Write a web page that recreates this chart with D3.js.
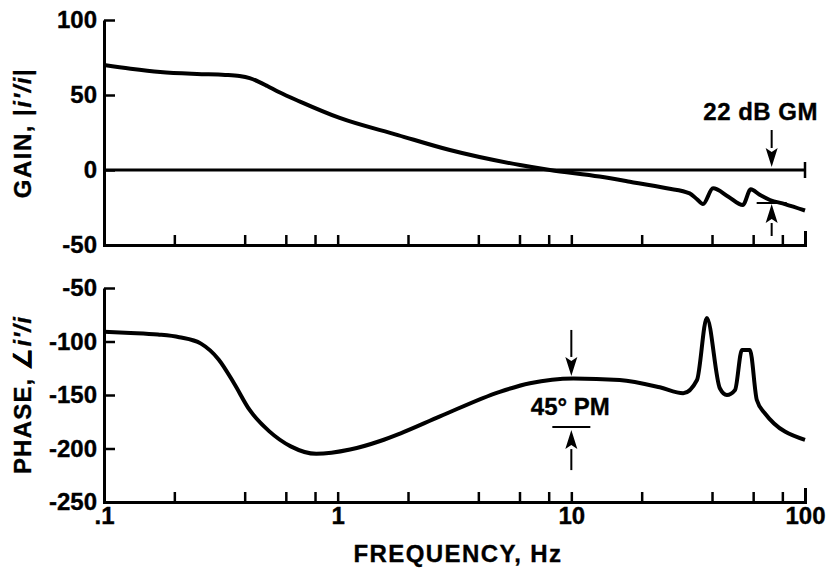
<!DOCTYPE html>
<html>
<head>
<meta charset="utf-8">
<script src="https://cdn.jsdelivr.net/npm/d3@7/dist/d3.min.js"></script>
<style>
  html, body { margin: 0; padding: 0; background: #fff; }
  svg { display: block; }
  text { font-family: "Liberation Sans", Arial, Helvetica, sans-serif; font-weight: bold; fill: #000; stroke: #000; stroke-width: 0.35px; }
</style>
</head>
<body>
<svg id="chart" width="828" height="578"></svg>
<script>
// ---- data ----
const gainFreq = [0.1, 0.13, 0.174, 0.25, 0.33, 0.38, 0.42, 0.46, 0.5, 0.56, 0.69, 1.02, 1.81, 3.02, 6.03, 8.1, 13.2, 17.8, 25.6, 32.1, 34.5, 36.6, 40.4, 47, 54.2, 58.6, 64, 70.8, 82, 100];
const gainDb   = [70, 67.5, 65.3, 64, 63.4, 62.6, 61.2, 58.8, 56, 52, 45.6, 34.7, 23.3, 13.3, 3.3, 0, -4.4, -7.8, -12.2, -15.6, -19.5, -22.7, -12.2, -17.8, -23.3, -12.9, -16.5, -20, -22.7, -27];

const phaseFreq = [0.1, 0.13, 0.17, 0.21, 0.26, 0.31, 0.36, 0.42, 0.51, 0.63, 0.81, 1.13, 1.52, 1.85, 2.74, 4.94, 6.65, 10.2, 16.1, 23.9, 30.1, 34.5, 38.0, 43.2, 46.3, 50.2, 53.7, 58.1, 62.2, 67.3, 100];
const phaseDeg  = [-91, -92, -93.5, -96, -102, -117, -139, -164, -184, -198, -205, -201, -193, -186, -170, -147, -139, -134.5, -136, -142.8, -148.4, -136, -78, -143.7, -150, -145.3, -108, -108, -154.7, -167, -192];

const freqTicks = [0.2, 0.4, 0.6, 0.8, 1, 2, 4, 6, 8, 10, 20, 40, 60, 80, 100];
const freqLabels = {0.1: ".1", 1: "1", 10: "10", 100: "100"};
const gainTicks = [100, 50, 0, -50];
const phaseTicks = [-50, -100, -150, -200, -250];

const gmFreq = 72, gmTop = 0, gmBottom = -22, gmLabel = "22 dB GM";
const pmFreq = 10, pmTop = -135, pmBottom = -180, pmLabel = "45\u00B0 PM";

// ---- layout ----
const svg = d3.select("#chart");
const x = d3.scaleLog().domain([0.1, 100]).range([104, 805]);
const yG = d3.scaleLinear().domain([-50, 100]).range([245, 20]);
const yP = d3.scaleLinear().domain([-250, -50]).range([502, 288]);
const FS = 24;
const hyphenFmt = d => String(d);

function styleAxis(g) {
  g.selectAll("path.domain").attr("stroke", "#000").attr("stroke-width", 3).attr("fill", "none");
  g.selectAll(".tick line").attr("stroke", "#000").attr("stroke-width", 2.5);
  g.selectAll(".tick text").attr("font-size", FS).attr("font-family", "Liberation Sans, Arial, sans-serif").attr("font-weight", "bold").attr("fill", "#000");
}

// top panel axes
svg.append("g").attr("transform", `translate(0,${yG(-50)})`)
  .call(d3.axisBottom(x).tickValues(freqTicks).tickFormat("").tickSizeInner(-10).tickSizeOuter(-14))
  .call(styleAxis);
svg.append("g").attr("transform", `translate(${x(0.1)},0)`)
  .call(d3.axisLeft(yG).tickValues(gainTicks).tickFormat(hyphenFmt).tickSizeInner(-11).tickSizeOuter(0).tickPadding(7))
  .call(styleAxis);

// bottom panel axes
svg.append("g").attr("transform", `translate(0,${yP(-250)})`)
  .call(d3.axisBottom(x).tickValues([0.1].concat(freqTicks)).tickFormat(d => freqLabels[d] || "").tickSizeInner(-10).tickSizeOuter(-14).tickPadding(5))
  .call(styleAxis)
  .call(g => g.selectAll(".tick").filter(d => d === 0.1).select("line").remove());
svg.append("g").attr("transform", `translate(${x(0.1)},0)`)
  .call(d3.axisLeft(yP).tickValues(phaseTicks).tickFormat(hyphenFmt).tickSizeInner(-11).tickSizeOuter(0).tickPadding(7))
  .call(styleAxis);

// zero line in gain panel with end cap
svg.append("line").attr("x1", x(0.1)).attr("x2", x(100)).attr("y1", yG(0)).attr("y2", yG(0))
  .attr("stroke", "#000").attr("stroke-width", 3);
svg.append("line").attr("x1", x(100)).attr("x2", x(100)).attr("y1", yG(0) - 8).attr("y2", yG(0) + 8)
  .attr("stroke", "#000").attr("stroke-width", 2.5);

// curves
const gainLine = d3.line().x(d => x(d[0])).y(d => yG(d[1])).curve(d3.curveMonotoneX);
svg.append("path").datum(d3.zip(gainFreq, gainDb)).attr("d", gainLine)
  .attr("fill", "none").attr("stroke", "#000").attr("stroke-width", 4).attr("stroke-linejoin", "round");

const phaseLine = d3.line().x(d => x(d[0])).y(d => yP(d[1])).curve(d3.curveMonotoneX);
svg.append("path").datum(d3.zip(phaseFreq, phaseDeg)).attr("d", phaseLine)
  .attr("fill", "none").attr("stroke", "#000").attr("stroke-width", 4).attr("stroke-linejoin", "round");

// arrows
function arrow(xp, yTip, dir, shaft) {
  // dir = +1 pointing down, -1 pointing up
  const headL = 19, headW = 6;
  svg.append("line").attr("x1", xp).attr("x2", xp)
    .attr("y1", yTip - dir * shaft).attr("y2", yTip - dir * headL)
    .attr("stroke", "#000").attr("stroke-width", 2);
  svg.append("path")
    .attr("d", `M${xp},${yTip} L${xp - headW},${yTip - dir * headL} L${xp},${yTip - dir * (headL - 4)} L${xp + headW},${yTip - dir * headL} Z`)
    .attr("fill", "#000");
}

// GM annotation
arrow(x(gmFreq), yG(gmTop) - 3, 1, 37);
arrow(x(gmFreq), yG(gmBottom) + 1, -1, 32);
svg.append("line").attr("x1", x(gmFreq) - 15).attr("x2", x(gmFreq) + 15)
  .attr("y1", yG(gmBottom)).attr("y2", yG(gmBottom)).attr("stroke", "#000").attr("stroke-width", 2);
svg.append("text").attr("x", 818).attr("y", 120).attr("text-anchor", "end")
  .attr("font-size", 24).attr("letter-spacing", 0.5).text(gmLabel);

// PM annotation
arrow(x(pmFreq), yP(pmTop) - 3, 1, 46);
arrow(x(pmFreq), yP(pmBottom) + 3, -1, 40);
svg.append("line").attr("x1", x(pmFreq) - 19).attr("x2", x(pmFreq) + 19)
  .attr("y1", yP(pmBottom)).attr("y2", yP(pmBottom)).attr("stroke", "#000").attr("stroke-width", 2);
svg.append("text").attr("x", x(pmFreq) - 1).attr("y", 415).attr("text-anchor", "middle")
  .attr("font-size", 24).text(pmLabel);

// axis titles
svg.append("text").attr("transform", `translate(31,133) rotate(-90)`).attr("text-anchor", "middle")
  .attr("font-size", 24).attr("letter-spacing", 1.5)
  .call(t => { t.append("tspan").text("GAIN, |"); t.append("tspan").attr("font-style", "italic").text("i\u2032/i"); t.append("tspan").text("|"); });
svg.append("text").attr("transform", `translate(31,395) rotate(-90)`).attr("text-anchor", "middle")
  .attr("font-size", 24).attr("letter-spacing", 1.2)
  .call(t => { t.append("tspan").text("PHASE, \u2220"); t.append("tspan").attr("font-style", "italic").text("i\u2032/i"); });
svg.append("text").attr("x", 458).attr("y", 562).attr("text-anchor", "middle")
  .attr("font-size", 24).attr("letter-spacing", 1.4).text("FREQUENCY, Hz");
</script>
</body>
</html>
